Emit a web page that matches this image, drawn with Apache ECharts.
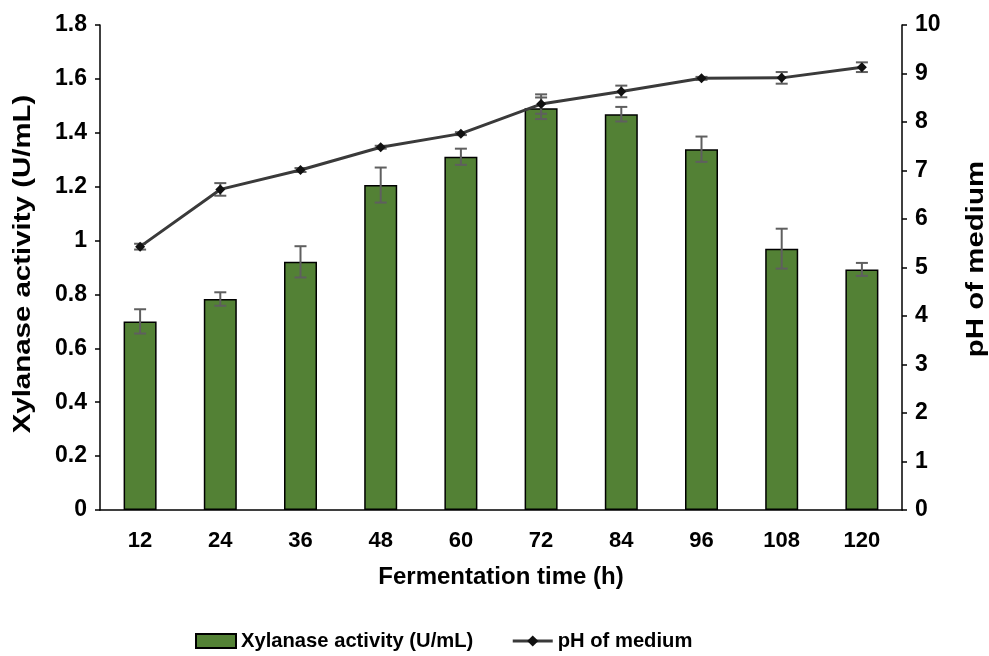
<!DOCTYPE html>
<html>
<head>
<meta charset="utf-8">
<script src="https://cdn.jsdelivr.net/npm/echarts@6/dist/echarts.min.js"></script>
<style>
  html, body { margin: 0; padding: 0; background: #fff; }
  #chart { width: 989px; height: 656px; }
</style>
</head>
<body>
<div id="chart"></div>
<script>
// fermentation time (h)
const hours = ['12', '24', '36', '48', '60', '72', '84', '96', '108', '120'];
// xylanase activity (U/mL) and its error
const activity = [0.70, 0.783, 0.921, 1.206, 1.311, 1.491, 1.469, 1.339, 0.970, 0.893];
const activityErr = [0.045, 0.025, 0.058, 0.065, 0.03, 0.04, 0.027, 0.047, 0.074, 0.024];
// pH of medium and its error
const ph = [5.43, 6.61, 7.01, 7.48, 7.76, 8.37, 8.63, 8.90, 8.91, 9.13];
const phErr = [0.06, 0.13, 0.04, 0.03, 0.03, 0.2, 0.12, 0.03, 0.12, 0.1];

const font = 'Liberation Sans, Arial, sans-serif';

function errData (vals, errs) {
  return vals.map(function (v, i) { return [i, v - errs[i], v + errs[i]] })
}

function errRender (params, api) {
  const x = api.value(0)
  const lo = api.coord([x, api.value(1)])
  const hi = api.coord([x, api.value(2)])
  const cap = 6
  const style = { stroke: '#5f5f5f', lineWidth: 2 }
  return {
    type: 'group',
    children: [
      { type: 'line', shape: { x1: lo[0], y1: lo[1], x2: hi[0], y2: hi[1] }, style: style },
      { type: 'line', shape: { x1: lo[0] - cap, y1: lo[1], x2: lo[0] + cap, y2: lo[1] }, style: style },
      { type: 'line', shape: { x1: hi[0] - cap, y1: hi[1], x2: hi[0] + cap, y2: hi[1] }, style: style }
    ]
  }
}

// vertical axis titles (drawn stretched along their length like the original)
function axisTitle (text, x, y) {
  return {
    type: 'text',
    x: x,
    y: y,
    rotation: Math.PI / 2,
    scaleX: 1.28,
    style: {
      text: text,
      fontFamily: font,
      fontSize: 23,
      fontWeight: 'bold',
      fill: '#000',
      align: 'center',
      verticalAlign: 'middle'
    }
  }
}

const tickLabel = { fontFamily: font, fontSize: 23, fontWeight: 'bold', color: '#000' }

const chart = echarts.init(document.getElementById('chart'), null, { renderer: 'canvas' })
chart.setOption({
  animation: false,
  textStyle: { fontFamily: font },
  grid: { left: 100, right: 87, top: 25, bottom: 146 },
  graphic: [
    axisTitle('Xylanase activity (U/mL)', 24, 264),
    axisTitle('pH of medium', 977, 259)
  ],
  legend: {
    bottom: 0,
    left: 190,
    itemGap: 38,
    itemWidth: 40,
    itemHeight: 14,
    lineStyle: { width: 3 },
    textStyle: { fontFamily: font, fontSize: 20.2, fontWeight: 'bold', color: '#000' },
    data: [
      { name: 'Xylanase activity (U/mL)', icon: 'rect' },
      { name: 'pH of medium' }
    ]
  },
  xAxis: {
    type: 'category',
    data: hours,
    name: 'Fermentation time (h)',
    nameLocation: 'middle',
    nameGap: 55,
    nameTextStyle: { fontFamily: font, fontSize: 24, fontWeight: 'bold', color: '#000' },
    axisLine: { lineStyle: { color: '#000', width: 1.5 } },
    axisTick: { length: 6, lineStyle: { color: '#000', width: 1.5 } },
    axisLabel: Object.assign({ margin: 20 }, tickLabel, { fontSize: 22 })
  },
  yAxis: [
    {
      type: 'value',
      min: 0,
      max: 1.8,
      interval: 0.2,
      axisLine: { show: true, lineStyle: { color: '#000', width: 1.5 } },
      axisTick: { show: true, length: 5, lineStyle: { color: '#000', width: 1.5 } },
      axisLabel: Object.assign({ margin: 13 }, tickLabel),
      splitLine: { show: false }
    },
    {
      type: 'value',
      min: 0,
      max: 10,
      interval: 1,
      axisLine: { show: true, lineStyle: { color: '#000', width: 1.5 } },
      axisTick: { show: true, length: 5, lineStyle: { color: '#000', width: 1.5 } },
      axisLabel: Object.assign({ margin: 13 }, tickLabel),
      splitLine: { show: false }
    }
  ],
  series: [
    {
      name: 'Xylanase activity (U/mL)',
      type: 'bar',
      barWidth: 33,
      data: activity,
      itemStyle: { color: '#538135', borderColor: '#000', borderWidth: 1.5 }
    },
    {
      type: 'custom',
      renderItem: errRender,
      data: errData(activity, activityErr),
      encode: { x: 0, y: [1, 2] },
      z: 3,
      silent: true
    },
    {
      name: 'pH of medium',
      type: 'line',
      yAxisIndex: 1,
      data: ph,
      symbol: 'diamond',
      symbolSize: 10,
      lineStyle: { color: '#3a3a3a', width: 3 },
      itemStyle: { color: '#111' },
      z: 5
    },
    {
      type: 'custom',
      yAxisIndex: 1,
      renderItem: errRender,
      data: errData(ph, phErr),
      encode: { x: 0, y: [1, 2] },
      z: 4,
      silent: true
    }
  ]
})
</script>
</body>
</html>
